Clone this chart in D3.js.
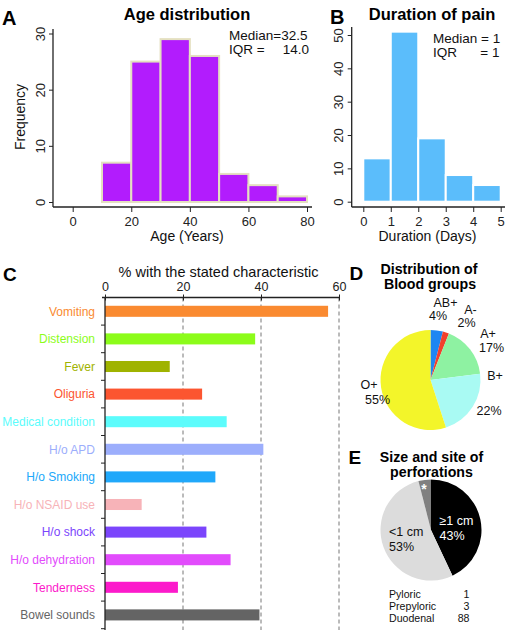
<!DOCTYPE html>
<html>
<head>
<meta charset="utf-8">
<script src="https://cdn.jsdelivr.net/npm/d3@7"></script>
<style>
  body { margin: 0; background: #fff; }
  svg { display: block; font-family: "Liberation Sans", Arial, sans-serif; }
</style>
</head>
<body>
<svg id="chart" width="505" height="630"></svg>
<script>
// ---------------- DATA ----------------
// Panel A: age histogram
const ageBinStarts = [10, 20, 30, 40, 50, 60, 70];
const ageBinWidth = 10;
const ageCounts = [7, 25, 29, 26, 5, 3, 1];
const ageXTicks = [0, 20, 40, 60, 80];
const ageYTicks = [0, 10, 20, 30];

// Panel B: duration histogram
const durBinStarts = [0, 1, 2, 3, 4];
const durBinWidth = 1;
const durCounts = [13, 51, 19, 8, 5];
const durXTicks = [0, 1, 2, 3, 4, 5];
const durYTicks = [0, 10, 20, 30, 40, 50];

// Panel C: characteristics
const charCategories = ["Vomiting", "Distension", "Fever", "Oliguria", "Medical condition",
  "H/o APD", "H/o Smoking", "H/o NSAID use", "H/o shock", "H/o dehydration", "Tenderness", "Bowel sounds"];
const charValues = [57.2, 38.5, 16.6, 24.9, 31.2, 40.6, 28.3, 9.4, 26.0, 32.2, 18.7, 39.6];
const charColors = ["#fa8a30", "#8cfc1a", "#9fb300", "#fc5530", "#5cfcfc",
  "#9caefc", "#20a8fa", "#f7b3b8", "#7b45fc", "#e24cfc", "#fc1acb", "#646464"];
const charTicks = [0, 20, 40, 60];

// Panel D: blood groups
const bloodGroups = ["AB+", "A-", "A+", "B+", "O+"];
const bloodPct = [4, 2, 17, 22, 55];
const bloodColors = ["#1e86f2", "#f2402c", "#8ef2a2", "#a9faf3", "#f3f52a"];

// Panel E: perforations
const perfSlices = ["\u22651 cm", "<1 cm", "*"];
const perfPct = [43, 53, 4];
const perfColors = ["#000000", "#dcdcdc", "#808080"];
const siteNames = ["Pyloric", "Prepyloric", "Duodenal"];
const siteCounts = [1, 3, 88];

// ---------------- DRAW ----------------
const svg = d3.select("#chart");
svg.append("rect").attr("width", 505).attr("height", 630).attr("fill", "#fff");
const axisColor = "#222";

function panelLetter(t, x, y) {
  svg.append("text").attr("x", x).attr("y", y).text(t)
    .attr("font-size", 20).attr("font-weight", "bold").attr("fill", "#000");
}

function histogram(opts) {
  const g = svg.append("g");
  const x = d3.scaleLinear().domain(opts.xDomain).range(opts.xRange);
  const y = d3.scaleLinear().domain(opts.yDomain).range(opts.yRange);
  g.selectAll("rect.bar").data(opts.starts).join("rect")
    .attr("class", "bar")
    .attr("x", d => x(d))
    .attr("width", d => x(d + opts.binWidth) - x(d))
    .attr("y", (d, i) => y(opts.counts[i]))
    .attr("height", (d, i) => y(0) - y(opts.counts[i]))
    .attr("fill", opts.fill).attr("stroke", opts.stroke).attr("stroke-width", 2);
  g.append("line").attr("x1", opts.axisX).attr("x2", opts.axisX)
    .attr("y1", opts.yLineTop).attr("y2", opts.axisY).attr("stroke", axisColor).attr("stroke-width", 1.3);
  g.append("line").attr("x1", opts.axisX).attr("x2", opts.xLineRight)
    .attr("y1", opts.axisY).attr("y2", opts.axisY).attr("stroke", axisColor).attr("stroke-width", 1.3);
  const ya = g.append("g").attr("transform", `translate(${opts.axisX},0)`)
    .call(d3.axisLeft(y).tickValues(opts.yTicks).tickSize(4).tickFormat(d3.format("d")));
  ya.select(".domain").remove();
  ya.selectAll("line").attr("stroke", axisColor);
  ya.selectAll("text").attr("transform", "rotate(-90)").attr("x", 0).attr("y", -8.5)
    .attr("dy", "0em").style("text-anchor", "middle")
    .attr("font-size", 13).attr("font-family", "Liberation Sans, Arial, sans-serif").attr("fill", "#222");
  const xa = g.append("g").attr("transform", `translate(0,${opts.axisY})`)
    .call(d3.axisBottom(x).tickValues(opts.xTicks).tickSize(5).tickPadding(5).tickFormat(d3.format("d")));
  xa.select(".domain").remove();
  xa.selectAll("line").attr("stroke", axisColor);
  xa.selectAll("text").attr("font-size", 13).attr("font-family", "Liberation Sans, Arial, sans-serif").attr("fill", "#222");
  g.append("text").attr("x", opts.titleX).attr("y", 20).attr("text-anchor", "middle")
    .attr("font-size", 16.5).attr("font-weight", "bold").text(opts.title);
  g.append("text").attr("x", opts.xLabelX).attr("y", 241).attr("text-anchor", "middle")
    .attr("font-size", 14).attr("fill", "#111").text(opts.xLabel);
  return g;
}

// Panel A
const gA = histogram({
  xDomain: [0, 80], xRange: [72.7, 307], yDomain: [0, 30], yRange: [202, 33.5],
  starts: ageBinStarts, binWidth: ageBinWidth, counts: ageCounts,
  fill: "#b21cfd", stroke: "#e4e0c0",
  axisX: 53, axisY: 207, yLineTop: 29, xLineRight: 312,
  xTicks: ageXTicks, yTicks: ageYTicks,
  title: "Age distribution", titleX: 187, xLabel: "Age (Years)", xLabelX: 187
});
gA.append("text").attr("transform", "translate(25,117) rotate(-90)").attr("text-anchor", "middle")
  .attr("font-size", 14).attr("fill", "#111").text("Frequency");
gA.append("text").attr("x", 229).attr("y", 39.5).attr("font-size", 13.5).attr("fill", "#111").text("Median=32.5");
gA.append("text").attr("x", 229).attr("y", 53.5).attr("font-size", 13.5).attr("fill", "#111").text("IQR =");
gA.append("text").attr("x", 309).attr("y", 53.5).attr("font-size", 13.5).attr("fill", "#111")
  .attr("text-anchor", "end").text("14.0");
panelLetter("A", 2, 25);

// Panel B
const gB = histogram({
  xDomain: [0, 5], xRange: [363.3, 500.7], yDomain: [0, 50], yRange: [201.7, 35],
  starts: durBinStarts, binWidth: durBinWidth, counts: durCounts,
  fill: "#5bbdfb", stroke: "#ffffff",
  axisX: 351.7, axisY: 207, yLineTop: 27, xLineRight: 505,
  xTicks: durXTicks, yTicks: durYTicks,
  title: "Duration of pain", titleX: 432, xLabel: "Duration (Days)", xLabelX: 427.5
});
gB.append("text").attr("x", 433).attr("y", 42.5).attr("font-size", 13.5).attr("fill", "#111").text("Median = 1");
gB.append("text").attr("x", 433).attr("y", 56.5).attr("font-size", 13.5).attr("fill", "#111").text("IQR");
gB.append("text").attr("x", 499.5).attr("y", 56.5).attr("font-size", 13.5).attr("fill", "#111")
  .attr("text-anchor", "end").text("= 1");
panelLetter("B", 330, 23.5);

// Panel C
(function () {
  const g = svg.append("g");
  const x = d3.scaleLinear().domain([0, 60]).range([105, 339]);
  const y = d3.scaleBand().domain(charCategories).range([297.5, 628.7]).paddingInner(0.6).paddingOuter(0.3);
  const top = 297.5, bottom = 630;
  g.selectAll("line.grid").data(charTicks.filter(d => d > 0)).join("line")
    .attr("class", "grid").attr("x1", d => x(d)).attr("x2", d => x(d))
    .attr("y1", top).attr("y2", bottom).attr("stroke", "#777").attr("stroke-width", 1)
    .attr("stroke-dasharray", "4,3");
  g.selectAll("rect.bar").data(charCategories).join("rect")
    .attr("class", "bar")
    .attr("x", x(0)).attr("y", d => y(d))
    .attr("width", (d, i) => x(charValues[i]) - x(0))
    .attr("height", y.bandwidth())
    .attr("fill", (d, i) => charColors[i]);
  g.selectAll("text.cat").data(charCategories).join("text")
    .attr("class", "cat")
    .attr("x", 95).attr("y", d => y(d) + y.bandwidth() / 2 + 4.3)
    .attr("text-anchor", "end").attr("font-size", 12)
    .attr("fill", (d, i) => charColors[i]).text(d => d);
  g.append("line").attr("x1", x(0)).attr("x2", x(0)).attr("y1", top).attr("y2", bottom)
    .attr("stroke", axisColor).attr("stroke-width", 1.3);
  const bounds = d3.range(1, charCategories.length + 1).map(i => top + i * y.step());
  g.selectAll("line.ytick").data(bounds).join("line").attr("class", "ytick")
    .attr("x1", x(0) - 4).attr("x2", x(0)).attr("y1", d => d).attr("y2", d => d)
    .attr("stroke", axisColor);
  g.append("line").attr("x1", 102).attr("x2", 339).attr("y1", top).attr("y2", top)
    .attr("stroke", axisColor).attr("stroke-width", 1.3);
  const xa = g.append("g").attr("transform", `translate(0,${top})`)
    .call(d3.axisTop(x).tickValues(charTicks).tickSize(3).tickPadding(3.5));
  xa.select(".domain").remove();
  xa.selectAll("line").attr("stroke", axisColor).attr("y2", -3).attr("y1", 3);
  xa.selectAll("text").attr("font-size", 12.5).attr("font-family", "Liberation Sans, Arial, sans-serif").attr("fill", "#222");
  g.append("text").attr("x", 218.5).attr("y", 277).attr("text-anchor", "middle")
    .attr("font-size", 14.5).attr("fill", "#111").text("% with the stated characteristic");
  svg.append("text").attr("x", 3).attr("y", 280.5).text("C")
    .attr("font-size", 19).attr("font-weight", "bold");
})();

// Panel D
(function () {
  const cx = 430.5, cy = 380, r = 50;
  const g = svg.append("g").attr("transform", `translate(${cx},${cy})`);
  const pie = d3.pie().sort(null).value(d => d)(bloodPct);
  const arc = d3.arc().innerRadius(0).outerRadius(r);
  g.selectAll("path").data(pie).join("path").attr("d", arc)
    .attr("fill", (d, i) => bloodColors[i]);
  // label layout offsets (relative to pie centre): [name dx, name dy, pct dx, pct dy]
  const lab = [
    [15, -73.5, 7.5, -60],
    [40, -66, 36, -53.5],
    [57.5, -42, 61, -28.5],
    [64.5, 0, 58.5, 34.5],
    [-61.5, 8.5, -53, 23.5]
  ];
  bloodGroups.forEach((name, i) => {
    g.append("text").attr("x", lab[i][0]).attr("y", lab[i][1]).attr("text-anchor", "middle")
      .attr("font-size", 12.5).attr("fill", "#111").text(name);
    g.append("text").attr("x", lab[i][2]).attr("y", lab[i][3]).attr("text-anchor", "middle")
      .attr("font-size", 12.5).attr("fill", "#111").text(bloodPct[i] + "%");
  });
  svg.append("text").attr("x", 429).attr("y", 273.5).attr("text-anchor", "middle")
    .attr("font-size", 14.2).attr("font-weight", "bold").text("Distribution of");
  svg.append("text").attr("x", 430).attr("y", 288.5).attr("text-anchor", "middle")
    .attr("font-size", 14.2).attr("font-weight", "bold").text("Blood groups");
  svg.append("text").attr("x", 349.5).attr("y", 280).text("D")
    .attr("font-size", 19).attr("font-weight", "bold");
})();

// Panel E
(function () {
  const cx = 431, cy = 530, r = 50.5;
  const g = svg.append("g").attr("transform", `translate(${cx},${cy})`);
  const pie = d3.pie().sort(null).value(d => d)(perfPct);
  const arc = d3.arc().innerRadius(0).outerRadius(r);
  g.selectAll("path").data(pie).join("path").attr("d", arc)
    .attr("fill", (d, i) => perfColors[i]);
  g.append("text").attr("x", 8.5).attr("y", -5).attr("font-size", 12.5).attr("fill", "#fff").text(perfSlices[0]);
  g.append("text").attr("x", 8.5).attr("y", 9.5).attr("font-size", 12.5).attr("fill", "#fff").text(perfPct[0] + "%");
  g.append("text").attr("x", -42).attr("y", 6).attr("font-size", 12.5).attr("fill", "#111").text(perfSlices[1]);
  g.append("text").attr("x", -42).attr("y", 21).attr("font-size", 12.5).attr("fill", "#111").text(perfPct[1] + "%");
  g.append("text").attr("x", -7).attr("y", -36).attr("text-anchor", "middle").attr("font-size", 14)
    .attr("font-weight", "bold").attr("fill", "#fff").text(perfSlices[2]);
  siteNames.forEach((n, i) => {
    svg.append("text").attr("x", 389).attr("y", 597.5 + i * 12).attr("font-size", 10.6).attr("fill", "#111").text(n);
    svg.append("text").attr("x", 469.5).attr("y", 597.5 + i * 12).attr("font-size", 10.6).attr("fill", "#111")
      .attr("text-anchor", "end").text(siteCounts[i]);
  });
  svg.append("text").attr("x", 431.5).attr("y", 462).attr("text-anchor", "middle")
    .attr("font-size", 14.2).attr("font-weight", "bold").text("Size and site of");
  svg.append("text").attr("x", 431.5).attr("y", 477).attr("text-anchor", "middle")
    .attr("font-size", 14.2).attr("font-weight", "bold").text("perforations");
  svg.append("text").attr("x", 348.5).attr("y", 463.5).text("E")
    .attr("font-size", 19).attr("font-weight", "bold");
})();
</script>
</body>
</html>
